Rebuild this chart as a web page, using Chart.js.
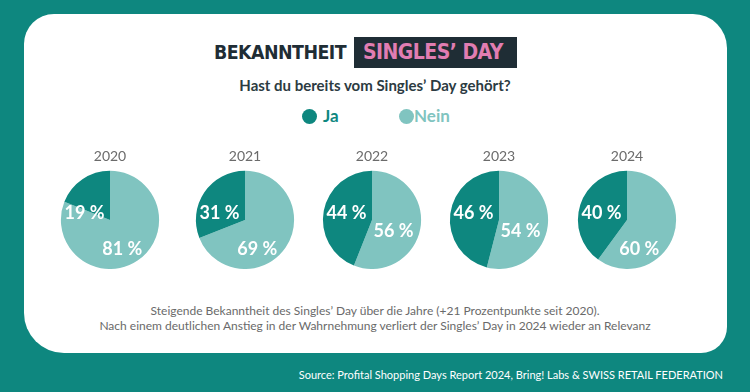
<!DOCTYPE html>
<html>
<head>
<meta charset="utf-8">
<script src="https://cdn.jsdelivr.net/npm/chart.js@4"></script>
<style>
  html, body { margin:0; padding:0; }
  body { width:750px; height:392px; background:#0e877f; position:relative; overflow:hidden; font-family:Lato, "Open Sans", sans-serif; }
  #card { position:absolute; left:24px; top:14px; width:703px; height:339px; background:#fff; border-radius:30px 34px 26px 40px; }
  .abs { position:absolute; white-space:nowrap; }
  #t1 { left:214px; top:38px; font-family:"DejaVu Sans", sans-serif; font-weight:900; font-size:20px; color:#1f2d35; line-height:28px; letter-spacing:-0.6px; transform:scaleX(0.87); transform-origin:left center; }
  #tbox { left:354px; top:37px; width:163px; height:31px; background:#1f2d35; }
  #t2 { left:363px; top:37px; font-family:"DejaVu Sans", sans-serif; font-weight:900; font-size:21px; color:#e17db2; line-height:31px; letter-spacing:-0.6px; transform:scaleX(0.9); transform-origin:left center; }
  #sub { left:0; width:750px; text-align:center; top:75px; font-size:15px; font-weight:700; color:#2c3b42; line-height:20px; }
  .dot { position:absolute; width:15px; height:15px; border-radius:50%; }
  .leg { font-size:17px; font-weight:700; line-height:22px; }
  .pie { position:absolute; }
  #foot { left:0; width:750px; text-align:center; top:303px; font-size:12px; color:#6a6a6a; line-height:15px; }
  #src { right:27px; top:367px; font-size:11px; color:#ffffff; line-height:15px; }
</style>
</head>
<body>
<div id="card"></div>
<div class="abs" id="t1">BEKANNTHEIT</div>
<div class="abs" id="tbox"></div>
<div class="abs" id="t2">SINGLES’ DAY</div>
<div class="abs" id="sub">Hast du bereits vom Singles’ Day gehört?</div>
<div class="dot" style="left:302px;top:109px;background:#0e877f"></div>
<div class="abs leg" style="left:323px;top:105px;color:#0e877f">Ja</div>
<div class="dot" style="left:399px;top:109px;background:#80c4c0"></div>
<div class="abs leg" style="left:414px;top:105px;color:#80c4c0">Nein</div>
<div id="pies"></div>
<div class="abs" id="foot">Steigende Bekanntheit des Singles’ Day über die Jahre (+21 Prozentpunkte seit 2020).<br>Nach einem deutlichen Anstieg in der Wahrnehmung verliert der Singles’ Day in 2024 wieder an Relevanz</div>
<div class="abs" id="src">Source: Profital Shopping Days Report 2024, Bring! Labs &amp; SWISS RETAIL FEDERATION</div>

<script>
const years = ["2020", "2021", "2022", "2023", "2024"];
const ja   = [19, 31, 44, 46, 40];
const nein = [81, 69, 56, 54, 60];
const seriesNames = ["Ja", "Nein"];

const DARK = "#0e877f", LIGHT = "#80c4c0";
const centersX = [110, 245, 372, 499, 627];

const labelPlugin = {
  id: "pctLabels",
  afterDatasetsDraw(chart) {
    const meta = chart.getDatasetMeta(0);
    const ctx = chart.ctx;
    const data = chart.data.datasets[0].data;
    ctx.save();
    ctx.fillStyle = "#ffffff";
    ctx.font = "bold 18px Lato, sans-serif";
    ctx.textAlign = "center";
    ctx.textBaseline = "middle";
    meta.data.forEach((arc, i) => {
      const r = arc.outerRadius;
      const v = data[i];
      let dx, dy;
      if (i === 1) { dx = -0.52 * r; dy = -0.13 * r; }          // Ja
      else if (v >= 60) { dx = 0.25 * r; dy = 0.6 * r; }        // Nein, large
      else { dx = 0.44 * r; dy = 0.23 * r; }                    // Nein, near half
      ctx.fillText(v + " %", arc.x + dx, arc.y + dy);
    });
    ctx.restore();
  }
};

const host = document.getElementById("pies");
years.forEach((yr, i) => {
  const c = document.createElement("canvas");
  c.className = "pie";
  c.width = 120; c.height = 129;
  c.style.width = "120px"; c.style.height = "129px";
  c.style.left = (centersX[i] - 60) + "px";
  c.style.top = "140px";
  host.appendChild(c);
  new Chart(c, {
    type: "pie",
    data: {
      labels: [seriesNames[1], seriesNames[0]],
      datasets: [{
        data: [nein[i], ja[i]],
        backgroundColor: [LIGHT, DARK],
        borderWidth: 0
      }]
    },
    options: {
      responsive: false,
      animation: false,
      layout: { padding: 0 },
      plugins: {
        legend: { display: false },
        tooltip: { enabled: false },
        title: {
          display: true,
          text: yr,
          color: "#6b6b6b",
          font: { family: "Lato, sans-serif", size: 14, weight: "normal" },
          padding: { top: 8, bottom: 6 }
        }
      }
    },
    plugins: [labelPlugin]
  });
});
</script>
</body>
</html>
